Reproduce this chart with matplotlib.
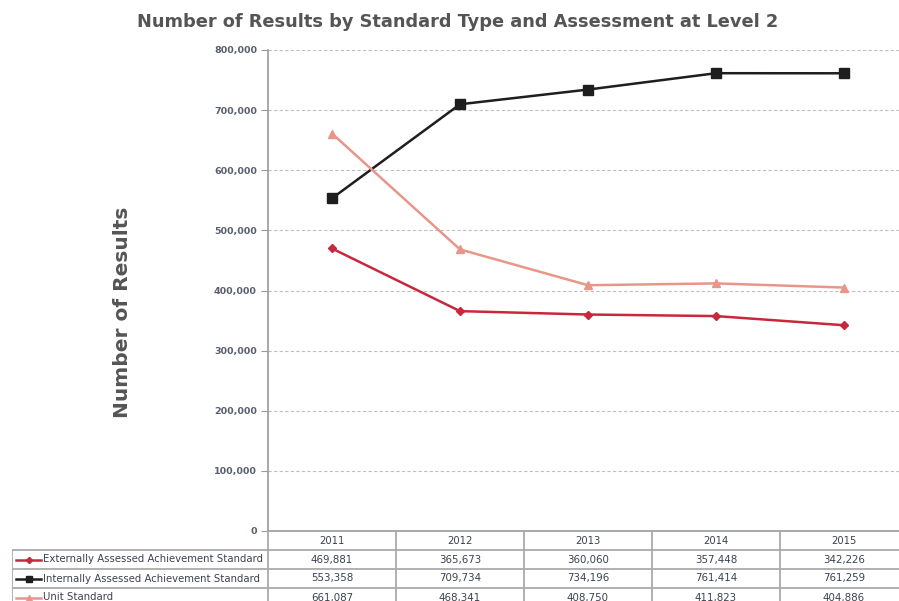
import numpy as np
import matplotlib.pyplot as plt

years = ['2011', '2012', '2013', '2014', '2015']
external = [469881, 365673, 360060, 357448, 342226]
internal = [553358, 709734, 734196, 761414, 761259]
unit = [661087, 468341, 408750, 411823, 404886]

series_names = ['Externally Assessed Achievement Standard',
                'Internally Assessed Achievement Standard',
                'Unit Standard']
series_vals = [external, internal, unit]
colors = ['#c8283c', '#1e1e1e', '#e8968a']
markers = ['D', 's', '^']
msizes = [4.5, 7, 6]

W, H = 899, 601
fig = plt.figure(figsize=(W / 100, H / 100), dpi=100)

text_c = '#555555'
tick_c = '#5a5f6e'
cell_text_c = '#3c4150'

# main plot area (extends a little past the right edge like the reference)
left_px, right_px, top_px, bot_px = 268, 908, 50, 531
ax = fig.add_axes([left_px / W, (H - bot_px) / H,
                   (right_px - left_px) / W, (bot_px - top_px) / H])
x = np.arange(len(years))
for vals, c, m, s in zip(series_vals, colors, markers, msizes):
    ax.plot(x, vals, color=c, lw=1.8, marker=m, ms=s, zorder=3)

ax.set_xlim(-0.5, len(years) - 0.5)
ax.set_ylim(0, 800000)
ax.set_yticks(np.arange(0, 800001, 100000))
ax.set_yticklabels(['{:,}'.format(v) for v in range(0, 800001, 100000)],
                   fontsize=6.8, fontweight='bold', color=tick_c)
ax.set_xticks([])
ax.yaxis.grid(True, linestyle=(0, (3, 2)), color='#c0c0c0', lw=0.8)
ax.set_axisbelow(True)
for sp in ['top', 'right']:
    ax.spines[sp].set_visible(False)
for sp in ['left', 'bottom']:
    ax.spines[sp].set_color('#999999')
    ax.spines[sp].set_linewidth(1.2)
ax.tick_params(axis='y', length=5, color='#999999', pad=3)

fig.text(0.509, 0.963, 'Number of Results by Standard Type and Assessment at Level 2',
         ha='center', va='center', fontsize=12.8, fontweight='bold', color=text_c)
fig.text(0.136, 0.481, 'Number of Results', rotation=90, ha='center', va='center',
         fontsize=14.5, fontweight='bold', color=text_c)

# data table below the plot
col_w = (right_px - left_px) / len(years)
leg_w = (left_px - 12) / col_w
row_h = 19
n_rows = len(series_names) + 1
tab = fig.add_axes([12 / W, (H - bot_px - n_rows * row_h) / H,
                    (right_px - 12) / W, n_rows * row_h / H])
tab.set_xlim(-0.5 - leg_w, len(years) - 0.5)
tab.set_ylim(n_rows, 0)
tab.axis('off')

lc = '#aaaaaa'
lw = 1.3
tab.plot([-0.5, len(years) - 0.5], [0, 0], color=lc, lw=lw)
for r in range(1, n_rows + 1):
    tab.plot([-0.5 - leg_w, len(years) - 0.5], [r, r], color=lc, lw=lw)
tab.plot([-0.5 - leg_w] * 2, [1, n_rows], color=lc, lw=lw)
for c in range(len(years) + 1):
    tab.plot([c - 0.5] * 2, [0, n_rows], color=lc, lw=lw)

for i, yr in enumerate(years):
    tab.text(i, 0.5, yr, ha='center', va='center', fontsize=7.2, color=cell_text_c)

for r, (name, vals, c, m, s) in enumerate(zip(series_names, series_vals, colors, markers, msizes), start=1):
    y = r + 0.5
    x0 = -0.5 - leg_w + 0.03
    x1 = x0 + 0.2
    tab.plot([x0, x1], [y, y], color=c, lw=1.8)
    tab.plot([(x0 + x1) / 2], [y], color=c, marker=m, ms=s * 0.7, lw=0)
    tab.text(x1 + 0.01, y, name, ha='left', va='center', fontsize=7.3, color=cell_text_c)
    for i, v in enumerate(vals):
        tab.text(i, y, '{:,}'.format(v), ha='center', va='center', fontsize=7.4, color=cell_text_c)

fig.savefig('out.png', dpi=100)
